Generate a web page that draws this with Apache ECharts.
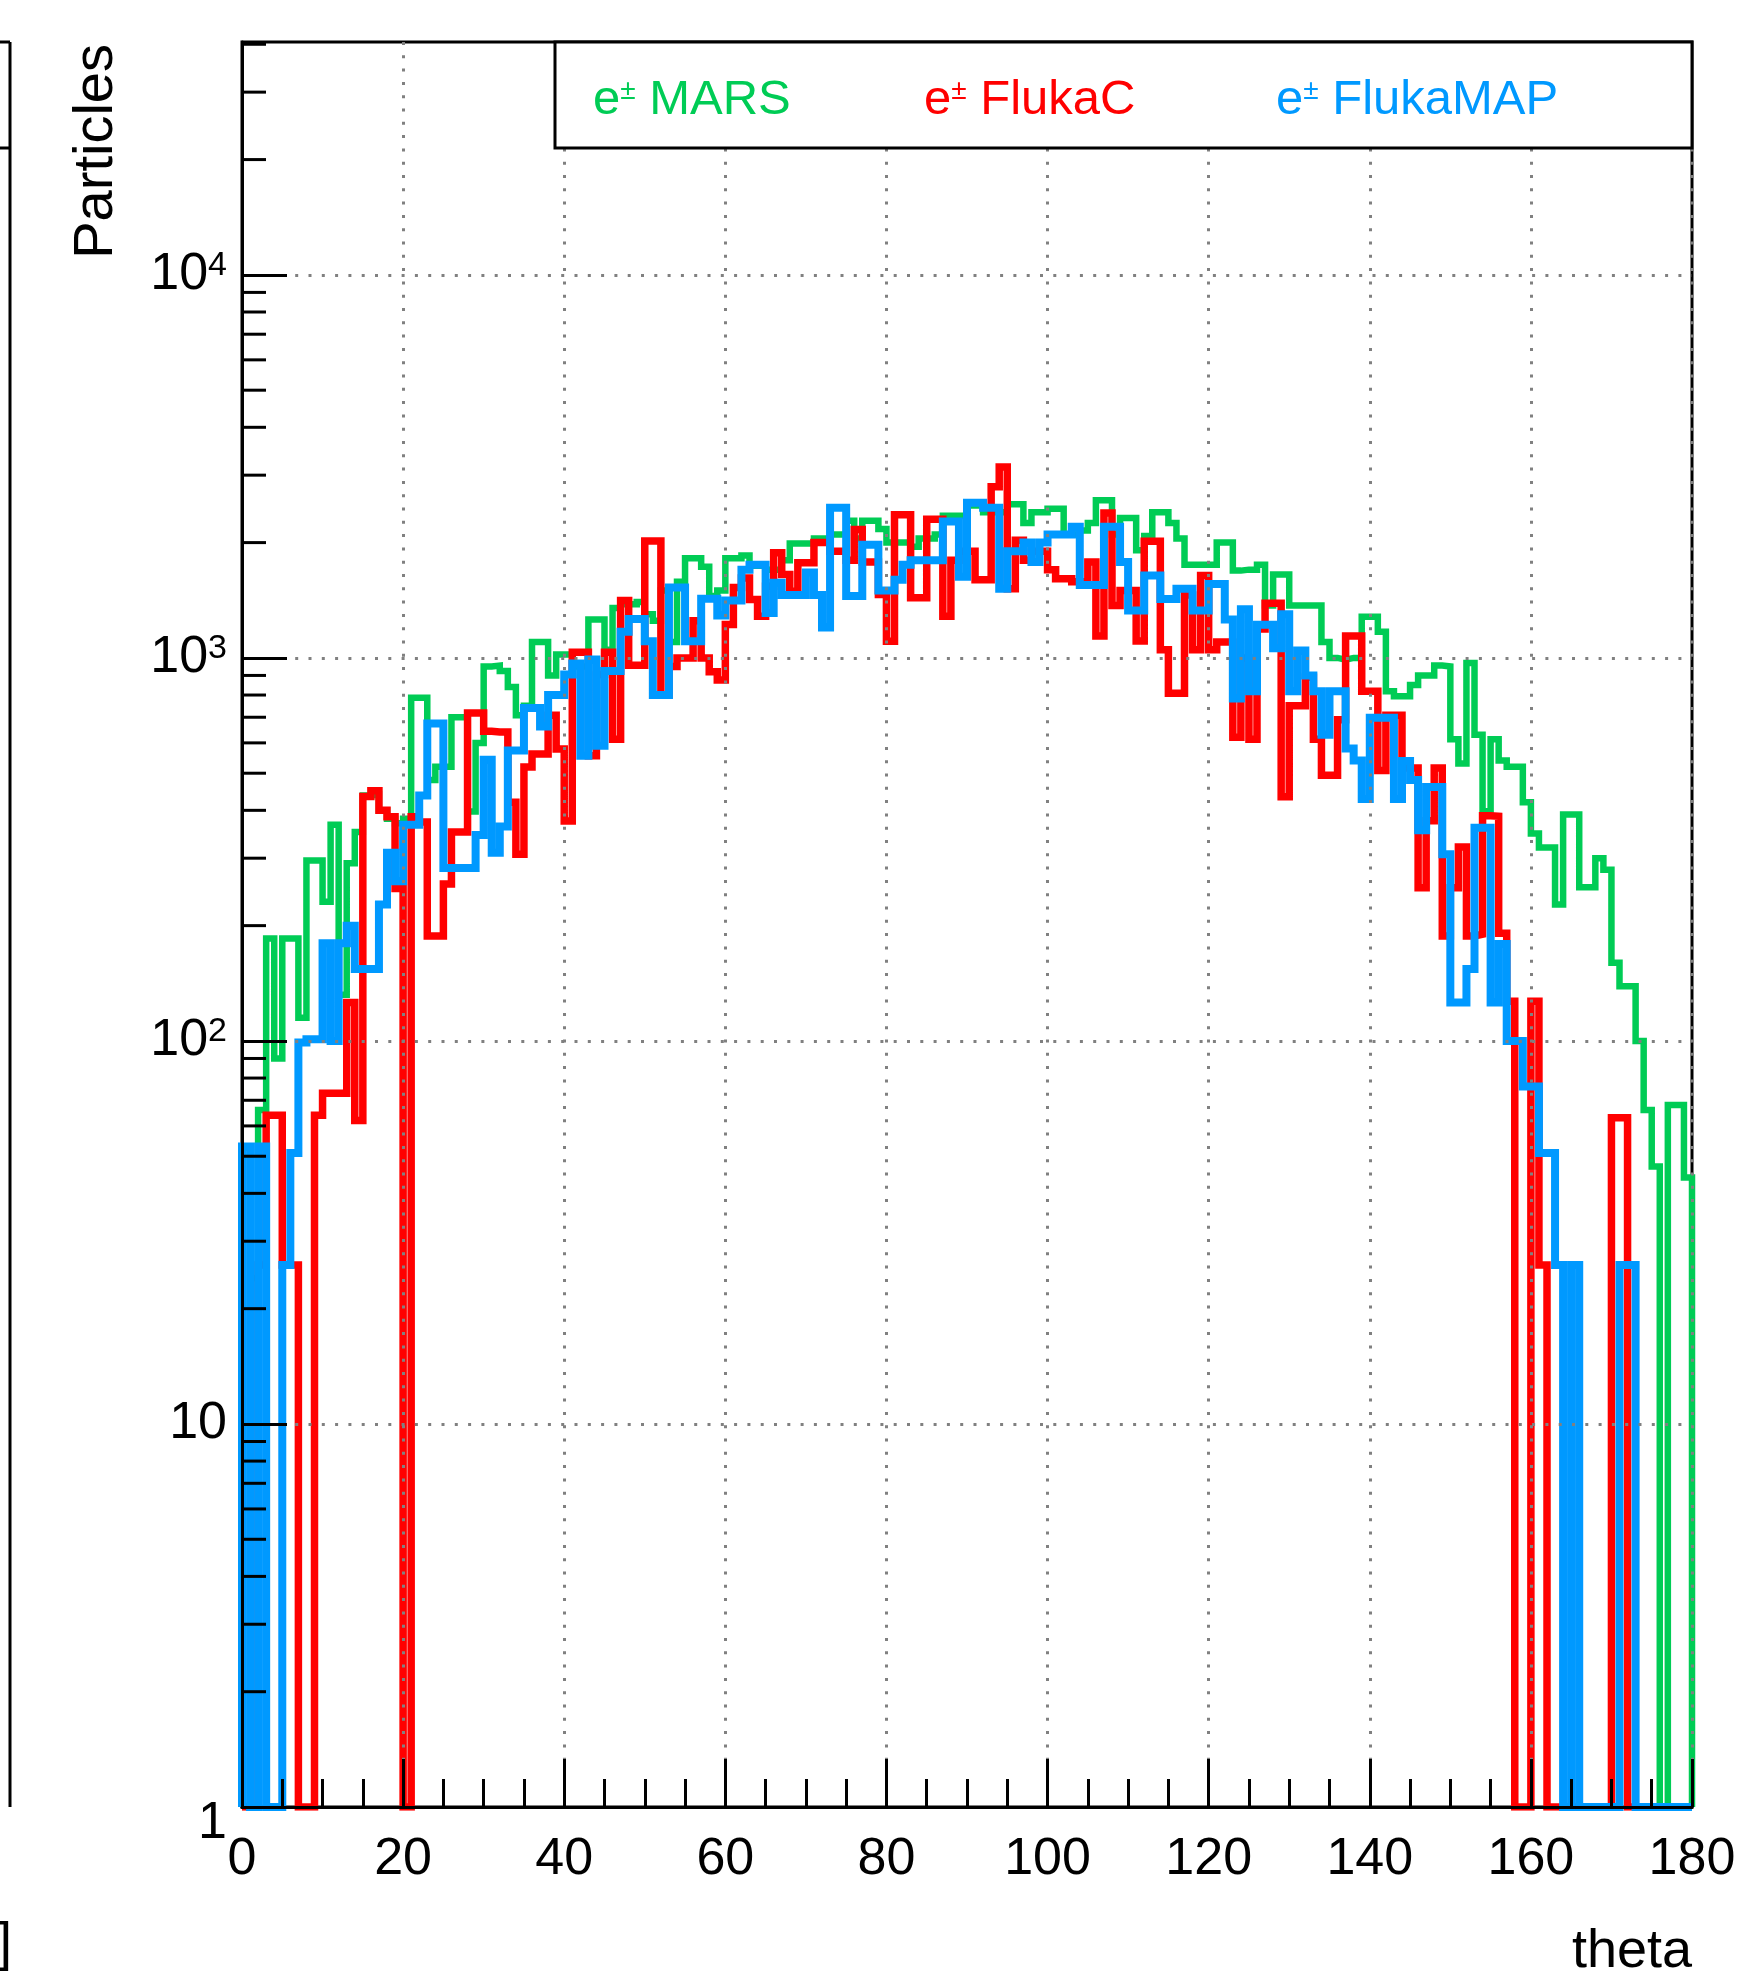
<!DOCTYPE html>
<html>
<head>
<meta charset="utf-8">
<title>e± angular distribution</title>
<script src="https://cdn.jsdelivr.net/npm/echarts@6/dist/echarts.min.js"></script>
<style>
  html, body { margin: 0; padding: 0; background: #ffffff; }
  #chart { width: 1753px; height: 1977px; }
</style>
</head>
<body>
<div id="chart"></div>
<script>
// Histogram binning: theta from 0 to 180 degrees, 1 degree per bin
const thetaMin = 0;
const thetaMax = 180;
const binWidth = 1;

// Bin contents (particles per bin), bins 0..179
const marsValues = [
  0, 24, 66, 185, 90, 185, 185, 115, 296, 296,
  231, 367, 132, 291, 351, 437, 440, 400, 380, 370,
  380, 787, 787, 480, 520, 520, 700, 700, 397, 600,
  950, 955, 925, 840, 708, 750, 1100, 1100, 900, 1020,
  1020, 950, 950, 1260, 1260, 1050, 1350, 1380, 1380, 1400,
  1300, 1250, 1500, 1100, 1580, 1820, 1820, 1730, 1450, 1500,
  1820, 1820, 1850, 1740, 1740, 1700, 1700, 1800, 1990, 1990,
  1990, 2050, 2050, 2100, 2100, 2280, 2050, 2280, 2280, 2170,
  2000, 2000, 2000, 1950, 2050, 2050, 2100, 2350, 2350, 2350,
  2500, 2500, 2400, 2400, 2400, 2520, 2520, 2250, 2400, 2400,
  2450, 2450, 2100, 2100, 2150, 2250, 2580, 2580, 2100, 2320,
  2320, 1910, 2080, 2400, 2400, 2250, 2050, 1750, 1750, 1750,
  1750, 2000, 2000, 1690, 1700, 1700, 1750, 1370, 1650, 1650,
  1370, 1370, 1370, 1370, 1100, 1000, 990, 1000, 1000, 1280,
  1280, 1170, 818, 794, 794, 850, 900, 900, 955, 950,
  613, 530, 970, 630, 398, 613, 540, 520, 520, 420,
  348, 320, 320, 227, 390, 390, 252, 252, 300, 280,
  160, 139, 139, 100, 66, 47, 0, 68, 68, 44
];

const flukaCValues = [
  0, 0, 26, 64, 64, 26, 26, 0, 0, 64,
  73, 73, 73, 126, 62, 435, 450, 400, 385, 250,
  0, 385, 373, 188, 188, 257, 351, 351, 718, 718,
  643, 641, 641, 420, 307, 519, 561, 561, 708, 578,
  375, 1034, 1034, 555, 905, 1034, 613, 1412, 957, 957,
  2018, 2018, 800, 950, 1000, 1000, 1250, 1000, 920, 875,
  1222, 1527, 1617, 1420, 1285, 1539, 1881, 1650, 1493, 1771,
  1771, 2000, 2000, 1900, 1900, 1800, 2163, 1780, 1780, 1463,
  1105, 2366, 2366, 1435, 1435, 2300, 2300, 1285, 1800, 1900,
  1900, 1600, 1600, 2800, 3150, 1516, 2030, 1800, 1900, 1900,
  1700, 1610, 1610, 1580, 1580, 1780, 1140, 2390, 1370, 1500,
  1500, 1107, 2015, 2015, 1050, 808, 808, 1460, 1050, 1640,
  1050, 1100, 1100, 621, 1000, 613, 1190, 1390, 1390, 434,
  750, 750, 890, 613, 494, 494, 690, 1140, 1140, 818,
  818, 508, 708, 708, 516, 516, 251, 376, 516, 188,
  251, 321, 188, 190, 387, 386, 191, 127, 0, 0,
  127, 26, 0, 0, 0, 0, 0, 0, 0, 0,
  63, 63, 0, 0, 0, 0, 0, 0, 0, 0
];

const flukaMapValues = [
  53, 0, 53, 0, 0, 26, 51, 99, 101, 101,
  180, 100, 180, 200, 154, 154, 154, 227, 310, 261,
  367, 367, 437, 674, 674, 283, 283, 283, 283, 345,
  542, 310, 363, 573, 573, 740, 740, 662, 800, 800,
  905, 967, 555, 990, 590, 925, 925, 1170, 1263, 1263,
  1106, 800, 800, 1527, 1527, 1106, 1106, 1428, 1428, 1290,
  1412, 1412, 1700, 1750, 1750, 1310, 1570, 1460, 1460, 1460,
  1670, 1460, 1200, 2465, 2465, 1450, 1450, 1975, 1975, 1500,
  1500, 1600, 1750, 1800, 1800, 1800, 1800, 2270, 2270, 1630,
  2540, 2540, 2465, 2465, 1516, 1900, 1900, 2000, 1780, 2000,
  2100, 2100, 2100, 2200, 1550, 1550, 1550, 2200, 2200, 1780,
  1330, 1330, 1640, 1640, 1425, 1425, 1516, 1516, 1330, 1330,
  1560, 1560, 1260, 784, 1340, 818, 1220, 1220, 1060, 1300,
  818, 1045, 900, 818, 630, 818, 818, 580, 540, 428,
  698, 698, 698, 428, 538, 480, 355, 460, 460, 307,
  126, 126, 154, 360, 360, 126, 179, 100, 100, 76,
  76, 51, 51, 26, 0, 26, 0, 0, 0, 0,
  0, 26, 26, 0, 0, 0, 0, 0, 0, 0
];

const seriesNames = ['e± MARS', 'e± FlukaC', 'e± FlukaMAP'];
const seriesValues = [marsValues, flukaCValues, flukaMapValues];

// Axis ticks and labels
const yMin = 1;
const yMax = 40550;
const yDecadeValues = [1, 10, 100, 1000, 10000];
const yDecadeLabels = ['{one|1}', '10', '10{sup|2}', '10{sup|3}', '10{sup|4}'];
const yMinorTickValues = [
  2, 3, 4, 5, 6, 7, 8, 9,
  20, 30, 40, 50, 60, 70, 80, 90,
  200, 300, 400, 500, 600, 700, 800, 900,
  2000, 3000, 4000, 5000, 6000, 7000, 8000, 9000,
  20000, 30000, 40000
];

// Styling
const colors = ['#00cc55', '#ff0000', '#0099ff'];
const lineWidths = [6.5, 7.5, 8];
const legendLeft = [588, 919, 1271];
const font = '"Liberation Sans", Arial, Helvetica, sans-serif';

// Outline of a histogram: flat top per bin, dropping to the axis floor for empty bins
function histogramOutline(values) {
  const pts = [[thetaMin, yMin]];
  values.forEach((v, i) => {
    const y = v > 0 ? v : yMin;
    const x0 = thetaMin + i * binWidth;
    pts.push([x0, y], [x0 + binWidth, y]);
  });
  pts.push([thetaMin + values.length * binWidth, yMin]);
  return pts;
}

const chart = echarts.init(document.getElementById('chart'), null, { renderer: 'canvas' });

const lineSeries = seriesNames.map((name, i) => ({
  name: name,
  type: 'line',
  data: histogramOutline(seriesValues[i]),
  showSymbol: false,
  symbol: 'none',
  silent: true,
  z: 2 + i * 0.1,
  lineStyle: { color: colors[i], width: lineWidths[i], join: 'miter', cap: 'butt' },
  itemStyle: { color: colors[i] },
  emphasis: { disabled: true }
}));

// Logarithmic minor ticks (2..9 per decade) on the left axis
const minorTickSeries = {
  type: 'custom',
  silent: true,
  z: 5,
  clip: false,
  data: yMinorTickValues.map(v => [thetaMin, v]),
  renderItem: function (params, api) {
    const p = api.coord([api.value(0), api.value(1)]);
    return {
      type: 'line',
      shape: { x1: p[0], y1: p[1], x2: p[0] + 24, y2: p[1] },
      style: { stroke: '#000000', lineWidth: 3 }
    };
  }
};

const legends = seriesNames.map((name, i) => ({
  data: [name],
  left: legendLeft[i],
  top: 75,
  padding: 0,
  icon: 'none',
  itemWidth: 0,
  itemHeight: 0,
  selectedMode: false,
  z: 10,
  formatter: n => 'e{s|±}' + n.slice(2),
  textStyle: {
    color: colors[i],
    fontFamily: font,
    fontSize: 49,
    lineHeight: 50,
    rich: {
      s: { color: colors[i], fontFamily: font, fontSize: 28, lineHeight: 28, verticalAlign: 'top', padding: [2, 0, 0, 0] }
    }
  }
}));

const dotted = { color: '#808080', width: 3, type: [3, 10.3] };

chart.setOption({
  animation: false,
  backgroundColor: '#ffffff',
  grid: {
    left: 242, right: 61, top: 42, bottom: 170,
    show: true, borderColor: '#000000', borderWidth: 3,
    backgroundColor: 'transparent',
    containLabel: false,
    outerBoundsMode: 'none'
  },
  legend: legends,
  xAxis: {
    type: 'value',
    min: thetaMin, max: thetaMax, interval: 20,
    z: 3,
    axisLine: { show: true, onZero: false, lineStyle: { color: '#000000', width: 3 } },
    axisTick: { show: true, inside: true, length: 48, lineStyle: { color: '#000000', width: 3 } },
    minorTick: { show: true, splitNumber: 4, length: 28, lineStyle: { color: '#000000', width: 3 } },
    splitLine: { show: true, lineStyle: dotted },
    minorSplitLine: { show: false },
    axisLabel: { color: '#000000', fontFamily: font, fontSize: 52, margin: 27, hideOverlap: false,
      showMinLabel: true, showMaxLabel: true },
    name: 'theta',
    nameLocation: 'end',
    nameGap: 0,
    nameTextStyle: { color: '#000000', fontFamily: font, fontSize: 54, align: 'right',
      verticalAlign: 'top', padding: [118, 0, 0, 0] }
  },
  yAxis: {
    type: 'log',
    logBase: 10,
    min: yMin, max: yMax,
    z: 3,
    axisLine: { show: true, onZero: false, lineStyle: { color: '#000000', width: 3 } },
    axisTick: { show: true, inside: true, length: 45, customValues: yDecadeValues,
      lineStyle: { color: '#000000', width: 3 } },
    minorTick: { show: false },
    splitLine: { show: true, lineStyle: dotted },
    axisLabel: {
      color: '#000000', fontFamily: font, fontSize: 52, margin: 15, hideOverlap: false,
      customValues: yDecadeValues,
      formatter: function (v) {
        const k = yDecadeValues.findIndex(d => Math.abs(d - v) / d < 1e-6);
        return k >= 0 ? yDecadeLabels[k] : '';
      },
      rich: {
        sup: { fontFamily: font, fontSize: 34, lineHeight: 34, verticalAlign: 'top', color: '#000000' },
        one: { fontFamily: font, fontSize: 52, padding: [34, 0, 0, 0], color: '#000000' }
      }
    }
  },
  graphic: [
    // legend frame
    { type: 'rect', z: 8, silent: true,
      shape: { x: 555, y: 42, width: 1137, height: 106 },
      style: { fill: '#ffffff', stroke: '#000000', lineWidth: 3 } },
    // y-axis title
    { type: 'text', z: 8, silent: true, x: 97, y: 44, rotation: Math.PI / 2,
      style: { text: 'Particles', fill: '#000000', font: '56px ' + font, align: 'right', verticalAlign: 'middle' } },
    // edge of the neighbouring pad
    { type: 'line', z: 8, silent: true, shape: { x1: 10, y1: 42, x2: 10, y2: 1807 }, style: { stroke: '#000000', lineWidth: 3 } },
    { type: 'line', z: 8, silent: true, shape: { x1: 0, y1: 42, x2: 10, y2: 42 }, style: { stroke: '#000000', lineWidth: 3 } },
    { type: 'line', z: 8, silent: true, shape: { x1: 0, y1: 148, x2: 10, y2: 148 }, style: { stroke: '#000000', lineWidth: 3 } },
    { type: 'text', z: 8, silent: true, x: 12, y: 1945,
      style: { text: ']', fill: '#000000', font: '54px ' + font, align: 'right', verticalAlign: 'middle' } }
  ],
  series: lineSeries.concat([minorTickSeries])
});
</script>
</body>
</html>
